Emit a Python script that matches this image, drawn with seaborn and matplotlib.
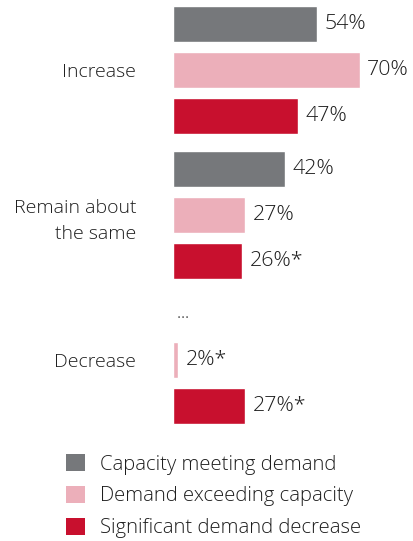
import matplotlib
matplotlib.use("Agg")
import matplotlib.pyplot as plt
from matplotlib.patches import Patch
import pandas as pd
import seaborn as sns

# Survey responses by expected change
categories = ["Increase", "Remain about\nthe same", "Decrease"]
series = ["Capacity meeting demand", "Demand exceeding capacity", "Significant demand decrease"]
capacity_meeting_demand = [54, 42, None]
demand_exceeding_capacity = [70, 27, 2]
significant_demand_decrease = [47, 26, 27]
# values marked with an asterisk
capacity_meeting_flags = [False, False, False]
demand_exceeding_flags = [False, False, True]
significant_decrease_flags = [False, True, True]
missing_label = "…"

colors = ["#76787B", "#ECAFBA", "#C8102E"]
text_color = "#1e1e1e"

sns.set_theme(style="white")
plt.rcParams["font.family"] = ["Open Sans", "DejaVu Sans"]
plt.rcParams["font.weight"] = "light"

values_by_series = [capacity_meeting_demand, demand_exceeding_capacity, significant_demand_decrease]
flags_by_series = [capacity_meeting_flags, demand_exceeding_flags, significant_decrease_flags]

rows = []
for s, vals, flags in zip(series, values_by_series, flags_by_series):
    for c, v, f in zip(categories, vals, flags):
        if v is not None:
            rows.append({"category": c, "series": s, "value": v,
                         "label": f"{v}%" + ("*" if f else "")})
df = pd.DataFrame(rows)

fig = plt.figure(figsize=(4.13, 5.41), dpi=100)
ax = fig.add_axes([173 / 413, 1 - 440 / 541, 1 - 173 / 413, 440 / 541])

sns.barplot(data=df, y="category", x="value", hue="series", order=categories,
            hue_order=series, palette=colors, orient="h", width=0.95, gap=0.2,
            saturation=1, errorbar=None, legend=False, ax=ax)

for container, s in zip(ax.containers, series):
    labels = df[df["series"] == s].set_index("category").reindex(categories)["label"].dropna()
    ax.bar_label(container, labels=list(labels), padding=5.5, fontsize=15.4, color=text_color)

# Placeholder for the series with no response in a category
for s_idx, vals in enumerate(values_by_series):
    for c_idx, v in enumerate(vals):
        if v is None:
            offset = (s_idx - 1) * 0.95 / 3
            ax.text(1.5, c_idx + offset, missing_label, ha="left", va="center",
                    fontsize=12, color=text_color)

ax.set_xlim(0, 90)
ax.set_ylim(2.552, -0.483)
ax.set_xlabel("")
ax.set_ylabel("")
ax.set_xticks([])
ax.tick_params(axis="y", length=0, pad=26.5, labelsize=14, labelcolor=text_color)
for lbl in ax.get_yticklabels():
    lbl.set_horizontalalignment("right")
    lbl.set_multialignment("right")
    lbl.set_linespacing(1.55)
sns.despine(ax=ax, left=True, bottom=True)

handles = [Patch(facecolor=c, edgecolor="none") for c in colors]
fig.legend(handles, series, loc="upper left", bbox_to_anchor=(66 / 413, 1 - 454 / 541),
           frameon=False, fontsize=14.6, handlelength=0.94, handleheight=0.94,
           handletextpad=0.72, labelspacing=0.55, borderpad=0, borderaxespad=0,
           labelcolor=text_color)

fig.savefig("out.png", dpi=100)
